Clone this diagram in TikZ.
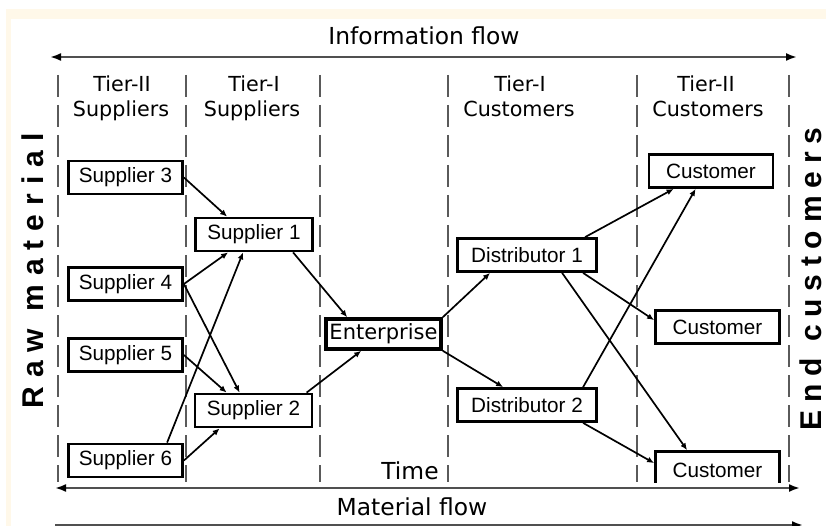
\documentclass[tikz,border=0pt]{standalone}
\usepackage{fontspec}
\setmainfont{Liberation Sans}
\newfontfamily\verd{DejaVu Sans}
\newfontfamily\spacedA[LetterSpace=30]{Liberation Sans}
\newfontfamily\spacedB[LetterSpace=26]{Liberation Sans}
\usetikzlibrary{arrows.meta}
\definecolor{paper}{HTML}{FFF8E9}
\definecolor{guide}{HTML}{5A5A5A}
\definecolor{flowline}{HTML}{505050}

\begin{document}
\begin{tikzpicture}[x=1pt,y=-1pt,
  flowtip/.tip={Latex[length=11pt,width=8pt,color=black]},
  box/.style={draw, line width=2.8pt, fill=white, inner sep=0pt,
    minimum height=33pt, font=\fontsize{20.7}{24}\selectfont},
  supl/.style={box, minimum width=114pt},
  mid/.style={box, minimum width=117pt},
  dist/.style={box, minimum width=139pt},
  cust/.style={box, minimum width=124pt},
  lane/.style={guide, line width=1.7pt, dash pattern=on 22pt off 8pt},
  link/.style={line width=1.7pt, -{Latex[length=7pt,width=6pt]}},
  flow/.style={flowline, line width=2pt},
  head/.style={anchor=base, inner sep=0pt, font=\verd\fontsize{20.7}{24}\selectfont},
  big/.style={anchor=base, inner sep=0pt, font=\verd\fontsize{23.4}{28}\selectfont},
  side/.style={anchor=base, rotate=90, inner sep=0pt}]

% page and paper edge
\useasboundingbox (0,0) rectangle (826,526);
\fill[white] (0,0) rectangle (826,526);
\fill[paper] (6,9) rectangle (826,526);
\fill[white] (11,19) rectangle (826,526);

% lane separators
\foreach \x in {58,186,320,448,637,789}
  \draw[lane] (\x,75) -- (\x,482);

% column headings
\node[head] (h1a) at (122,92)  {Tier-II};
\node[head] (h1b) at (121,117) {Suppliers};
\node[head] (h2a) at (254,92)  {Tier-I};
\node[head] (h2b) at (252,117) {Suppliers};
\node[head] (h3a) at (520,92)  {Tier-I};
\node[head] (h3b) at (519,117) {Customers};
\node[head] (h4a) at (706,92)  {Tier-II};
\node[head] (h4b) at (708,117) {Customers};

% flows along top and bottom
\coordinate (il) at (50,57);  \coordinate (ir) at (797,57);
\coordinate (ml) at (55,488); \coordinate (mr) at (800,488);
\coordinate (bl) at (55,525); \coordinate (br) at (803,525);
\draw[flow, flowtip-flowtip] (il) -- (ir);
\draw[flow, flowtip-flowtip] (ml) -- (mr);
\draw[flow, -flowtip] (bl) -- (br);
\node[big] (info) at (424,45)  {Information flow};
\node[big] (mat)  at (412,515) {Material flow};
\node[big] (time) at (410,479) {Time};

% side labels
\node[side, font=\spacedA\bfseries\fontsize{30}{34}\selectfont] (raw) at (43,271) {Raw material};
\node[side, font=\spacedB\bfseries\fontsize{30}{34}\selectfont] (end) at (821,279) {End customers};

% supply chain members
\node[supl] (s3) at (125.5,177.5) {Supplier 3};
\node[supl] (s4) at (125.5,284)   {Supplier 4};
\node[supl] (s5) at (125.5,355)   {Supplier 5};
\node[supl] (s6) at (125.5,460.5) {Supplier 6};
\node[mid]  (s1) at (254,234.5)   {Supplier 1};
\node[mid]  (s2) at (253.5,410.5) {Supplier 2};
\node[box, line width=3.6pt, minimum width=115pt, minimum height=30pt,
      font=\verd\fontsize{21}{24}\selectfont] (ent) at (383.5,334) {Enterprise};
\node[dist] (d1) at (527,255) {Distributor 1};
\node[dist] (d2) at (527,405) {Distributor 2};
\node[cust] (c1) at (711,171)   {Customer};
\node[cust] (c2) at (717.5,327) {Customer};
\begin{scope}
  \clip (600,440) rectangle (800,482);
  \node[cust, minimum height=37pt] (c3) at (717.5,470) {Customer};
\end{scope}

% links between members
\draw[link] (s3.east) -- ([xshift=33pt]s1.north west);
\draw[link] (s4.east) -- ([xshift=34pt]s1.south west);
\draw[link] (s4.east) -- ([xshift=46pt]s2.north west);
\draw[link] (s5.east) -- ([xshift=33pt]s2.north west);
\draw[link] ([xshift=100pt]s6.north west) -- ([xshift=49pt]s1.south west);
\draw[link] (s6.east) -- ([xshift=26pt]s2.south west);
\draw[link] ([xshift=99pt]s1.south west) -- ([xshift=23pt]ent.north west);
\draw[link] ([xshift=113pt]s2.north west) -- ([xshift=37pt]ent.south west);
\draw[link] (ent.north east) -- ([xshift=34pt]d1.south west);
\draw[link] (ent.south east) -- ([xshift=47pt]d2.north west);
\draw[link] ([xshift=129pt]d1.north west) -- ([xshift=26pt]c1.south west);
\draw[link] ([xshift=127pt]d1.south west) -- ([yshift=-11pt]c2.north west);
\draw[link] ([xshift=106pt]d1.south west) -- ([xshift=33pt]c3.north west);
\draw[link] ([xshift=127pt]d2.north west) -- ([xshift=48pt]c1.south west);
\draw[link] ([xshift=127pt]d2.south west) -- ([yshift=-13pt]c3.north west);
\end{tikzpicture}
\end{document}
